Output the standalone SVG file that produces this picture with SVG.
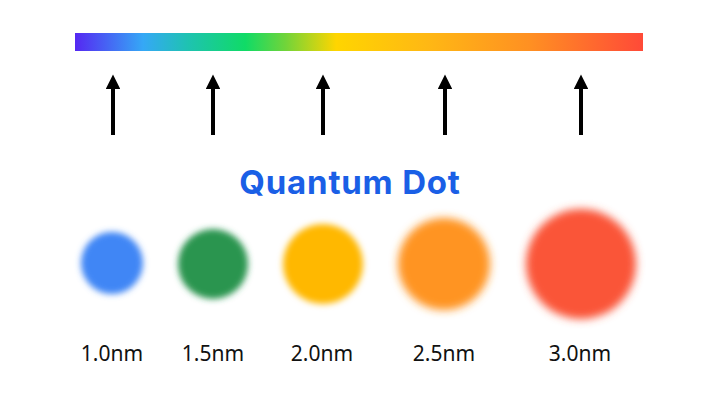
<svg xmlns="http://www.w3.org/2000/svg" width="720" height="400" viewBox="0 0 720 400">
<style>
.lbl{font-family:"Noto Sans","Open Sans",sans-serif;font-size:21px;fill:#111;text-anchor:middle}
.title{font-family:Inter,"Noto Sans",sans-serif;font-weight:700;font-size:33px;letter-spacing:0.8px;fill:#1a5fe6;text-anchor:middle}
.arr{stroke:#000;stroke-width:4;marker-end:url(#ah)}
</style>
<defs>
<linearGradient id="spec" x1="0" x2="1" y1="0" y2="0">
<stop offset="0" stop-color="#5528f2"/>
<stop offset="0.12" stop-color="#35a8f6"/>
<stop offset="0.2" stop-color="#1ec3b0"/>
<stop offset="0.3" stop-color="#10db66"/>
<stop offset="0.37" stop-color="#70d43a"/>
<stop offset="0.46" stop-color="#ffd500"/>
<stop offset="0.62" stop-color="#ffb814"/>
<stop offset="0.8" stop-color="#ff9022"/>
<stop offset="1" stop-color="#ff4a38"/>
</linearGradient>
<marker id="ah" viewBox="0 0 10 10" refX="2" refY="5" markerWidth="3.6" markerHeight="3.6" orient="auto" markerUnits="strokeWidth">
<path d="M0,0 L10,5 L0,10 z" fill="#000"/>
</marker>
<filter id="blur" x="-30%" y="-30%" width="160%" height="160%"><feGaussianBlur stdDeviation="3"/></filter>
<filter id="blur2" x="-30%" y="-30%" width="160%" height="160%"><feGaussianBlur stdDeviation="4.5"/></filter>
</defs>
<rect x="75" y="33" width="568" height="18" fill="url(#spec)"/>
<g id="connectors">
<line class="arr" x1="113" y1="135" x2="113" y2="86"/>
<line class="arr" x1="213" y1="135" x2="213" y2="86"/>
<line class="arr" x1="323" y1="135" x2="323" y2="86"/>
<line class="arr" x1="445" y1="135" x2="445" y2="86"/>
<line class="arr" x1="581" y1="135" x2="581" y2="86"/>
</g>
<text class="title" x="350" y="194">Quantum Dot</text>
<g id="dot1"><circle cx="112" cy="263" r="31" fill="#3f86f5" filter="url(#blur)"/><text class="lbl" x="112" y="361">1.0nm</text></g>
<g id="dot2"><circle cx="213" cy="264" r="35" fill="#2a9550" filter="url(#blur)"/><text class="lbl" x="213" y="361">1.5nm</text></g>
<g id="dot3"><circle cx="323" cy="264" r="40" fill="#ffb806" filter="url(#blur)"/><text class="lbl" x="322" y="361">2.0nm</text></g>
<g id="dot4"><circle cx="444" cy="264" r="46" fill="#ff9420" filter="url(#blur2)"/><text class="lbl" x="444" y="361">2.5nm</text></g>
<g id="dot5"><circle cx="581" cy="264" r="55" fill="#fa5537" filter="url(#blur2)"/><text class="lbl" x="580" y="361">3.0nm</text></g>
</svg>
